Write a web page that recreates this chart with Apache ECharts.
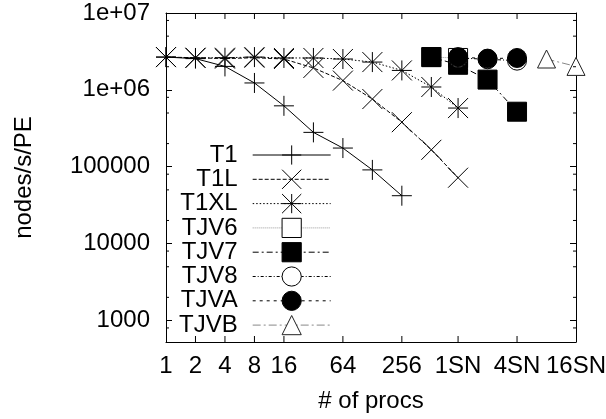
<!DOCTYPE html>
<html>
<head>
<meta charset="utf-8">
<script src="https://cdn.jsdelivr.net/npm/echarts@6/dist/echarts.min.js"></script>
<style>
  html, body { margin: 0; padding: 0; background: #fff; }
  #chart { width: 606px; height: 419px; }
</style>
</head>
<body>
<div id="chart"></div>
<script>
// Throughput per processing element versus processor count (SN = supernode of 960 procs)
const procsT1   = [1, 2, 4, 8, 16, 32, 64, 128, 256];
const rateT1    = [2.67e6, 2.55e6, 2.02e6, 1.23e6, 6.2e5, 2.8e5, 1.75e5, 9.1e4, 4.2e4];

const procsT1L  = [1, 2, 4, 8, 16, 32, 64, 128, 256, 512, 960];
const rateT1L   = [2.67e6, 2.62e6, 2.55e6, 2.62e6, 2.52e6, 1.93e6, 1.32e6, 7.6e5, 3.8e5, 1.66e5, 7.2e4];

const procsT1XL = [1, 2, 4, 8, 16, 32, 64, 128, 256, 512, 960];
const rateT1XL  = [2.67e6, 2.6e6, 2.62e6, 2.67e6, 2.6e6, 2.6e6, 2.52e6, 2.3e6, 1.79e6, 1.09e6, 5.8e5];

const procsTJV6 = [512, 960];
const rateTJV6  = [2.67e6, 2.6e6];

const procsTJV7 = [512, 960, 1920, 3840];
const rateTJV7  = [2.67e6, 2.12e6, 1.36e6, 5.2e5];

const procsTJV8 = [960, 1920, 3840];
const rateTJV8  = [2.6e6, 2.5e6, 2.4e6];

const procsTJVA = [960, 1920, 3840];
const rateTJVA  = [2.67e6, 2.55e6, 2.6e6];

const procsTJVB = [7680, 15360];
const rateTJVB  = [2.52e6, 2.02e6];

// Axis ranges and tick marks
const xMin = 1, xMax = 15360;
const yMin = 525, yMax = 1e7;
const xTickValues = [1, 2, 4, 8, 16, 64, 256, 960, 3840, 15360];
const xTickLabels = ['1', '2', '4', '8', '16', '64', '256', '1SN', '4SN', '16SN'];
const yMinorTicks = [800, 2000, 5000, 8000, 20000, 50000, 80000, 2e5, 5e5, 8e5, 2e6, 5e6, 8e6];

const FONT = '"Liberation Sans", Arial, Helvetica, sans-serif';
const FS = 24;

// Point shapes, stroked with a thin pen
const PLUS = 'path://M0,-1L0,1M-1,0L1,0';
const CROSS = 'path://M-1,-1L1,1M-1,1L1,-1';
const STAR = 'path://M0,-1L0,1M-1,0L1,0M-1,-1L1,1M-1,1L1,-1';
const BOX = 'path://M-1,-1L1,-1L1,1L-1,1Z';
const RING = 'path://M1,0A1,1 0 1,1 -1,0A1,1 0 1,1 1,0Z';
const TRI = 'path://M0,-1L1,0.75L-1,0.75Z';

function pairs(xs, ys) { return xs.map((x, i) => [x, ys[i]]); }

function lineSeries(name, xs, ys, opt) {
  return {
    name: name,
    type: 'line',
    xAxisIndex: 0,
    yAxisIndex: 0,
    data: pairs(xs, ys),
    symbol: opt.symbol,
    symbolSize: opt.size,
    showSymbol: true,
    lineStyle: { color: opt.lineColor, width: 1, type: opt.dash },
    itemStyle: { color: opt.fill, borderColor: opt.stroke, borderWidth: 1 },
    emphasis: { disabled: true },
    silent: true
  };
}

const series = [
  lineSeries('T1',   procsT1,   rateT1,   { symbol: PLUS,     size: 20, lineColor: '#000', dash: 'solid',      fill: '#000', stroke: '#000' }),
  lineSeries('T1L',  procsT1L,  rateT1L,  { symbol: CROSS,    size: 20, lineColor: '#000', dash: [4, 2],       fill: '#000', stroke: '#000' }),
  lineSeries('T1XL', procsT1XL, rateT1XL, { symbol: STAR,     size: 20, lineColor: '#000', dash: [1.5, 2],     fill: '#000', stroke: '#000' }),
  lineSeries('TJV6', procsTJV6, rateTJV6, { symbol: BOX,      size: 19, lineColor: '#999', dash: [1, 1],       fill: '#fff', stroke: '#000' }),
  lineSeries('TJV7', procsTJV7, rateTJV7, { symbol: 'rect',   size: 19, lineColor: '#000', dash: [6, 3, 2, 3], fill: '#000', stroke: '#000' }),
  lineSeries('TJV8', procsTJV8, rateTJV8, { symbol: RING,     size: 19, lineColor: '#000', dash: [3, 2, 1, 2], fill: '#fff', stroke: '#000' }),
  lineSeries('TJVA', procsTJVA, rateTJVA, { symbol: 'circle', size: 19, lineColor: '#000', dash: [3, 4],       fill: '#000', stroke: '#000' }),
  lineSeries('TJVB', procsTJVB, rateTJVB, { symbol: TRI,      size: 18, lineColor: '#888', dash: [8, 3, 2, 3], fill: '#fff', stroke: '#222' })
];

const legendNames = series.map(s => s.name);

// Bottom/top tick marks and labels at processor counts
series.push({
  type: 'custom',
  xAxisIndex: 0,
  yAxisIndex: 0,
  silent: true,
  clip: false,
  z: 5,
  data: xTickValues.map(v => [v, yMin]),
  renderItem: function (params, api) {
    const v = api.value(0);
    const b = api.coord([v, yMin]);
    const t = api.coord([v, yMax]);
    const children = [];
    if (v > xMin && v < xMax) {
      children.push({ type: 'line', shape: { x1: b[0], y1: b[1], x2: b[0], y2: b[1] - 6 }, style: { stroke: '#000', lineWidth: 1 } });
      children.push({ type: 'line', shape: { x1: t[0], y1: t[1], x2: t[0], y2: t[1] + 6 }, style: { stroke: '#000', lineWidth: 1 } });
    }
    children.push({
      type: 'text',
      style: {
        text: xTickLabels[params.dataIndex],
        x: b[0], y: b[1] + 12,
        align: 'center', verticalAlign: 'top',
        font: FS + 'px ' + FONT, fill: '#000'
      }
    });
    return { type: 'group', children: children };
  }
});

// Minor ticks on the left and right edges of the log y axis
series.push({
  type: 'custom',
  xAxisIndex: 0,
  yAxisIndex: 0,
  silent: true,
  clip: false,
  z: 5,
  data: yMinorTicks.map(v => [xMin, v]),
  renderItem: function (params, api) {
    const v = api.value(1);
    const l = api.coord([xMin, v]);
    const r = api.coord([xMax, v]);
    return {
      type: 'group',
      children: [
        { type: 'line', shape: { x1: l[0], y1: l[1], x2: l[0] + 3, y2: l[1] }, style: { stroke: '#000', lineWidth: 1 } },
        { type: 'line', shape: { x1: r[0], y1: r[1], x2: r[0] - 3, y2: r[1] }, style: { stroke: '#000', lineWidth: 1 } }
      ]
    };
  }
});

function yLabel(v) {
  const e = Math.round(Math.log10(v));
  const p = Math.pow(10, e);
  if (Math.abs(v - p) / p > 1e-6) return '';
  return e >= 6 ? '1e+0' + e : String(p);
}

const frameLine = { show: true, onZero: false, lineStyle: { color: '#000', width: 1 } };

const option = {
  animation: false,
  backgroundColor: '#fff',
  textStyle: { fontFamily: FONT, color: '#000' },
  grid: { left: 166, right: 30, top: 13, bottom: 77, containLabel: false },
  xAxis: [
    {
      type: 'log', logBase: 2, min: xMin, max: xMax, position: 'bottom',
      axisLine: frameLine, axisTick: { show: false }, axisLabel: { show: false }, splitLine: { show: false },
      name: '# of procs', nameLocation: 'middle', nameGap: 47,
      nameTextStyle: { fontSize: FS, color: '#000', fontFamily: FONT }
    },
    {
      type: 'log', logBase: 2, min: xMin, max: xMax, position: 'top',
      axisLine: frameLine, axisTick: { show: false }, axisLabel: { show: false }, splitLine: { show: false }
    }
  ],
  yAxis: [
    {
      type: 'log', logBase: 10, min: yMin, max: yMax, position: 'left',
      axisLine: frameLine,
      axisTick: { show: true, inside: true, length: 6, lineStyle: { color: '#000', width: 1 } },
      axisLabel: { formatter: yLabel, fontSize: FS, color: '#000', fontFamily: FONT, margin: 16 },
      splitLine: { show: false },
      name: 'nodes/s/PE', nameLocation: 'middle', nameGap: 130,
      nameTextStyle: { fontSize: FS, color: '#000', fontFamily: FONT }
    },
    {
      type: 'log', logBase: 10, min: yMin, max: yMax, position: 'right',
      axisLine: frameLine,
      axisTick: { show: true, inside: true, length: 6, lineStyle: { color: '#000', width: 1 } },
      axisLabel: { show: false },
      splitLine: { show: false }
    }
  ],
  legend: {
    data: legendNames,
    orient: 'vertical',
    left: 179,
    top: 143,
    padding: 0,
    align: 'right',
    itemWidth: 78,
    itemHeight: 24,
    itemGap: 0.3,
    selectedMode: false,
    lineStyle: { width: 1 },
    itemStyle: { borderWidth: 1 },
    textStyle: { fontSize: FS, color: '#000', fontFamily: FONT, lineHeight: 24, padding: [0, 10, 0, 0] }
  },
  series: series
};

const chart = echarts.init(document.getElementById('chart'), null, { renderer: 'canvas' });
chart.setOption(option);
</script>
</body>
</html>
